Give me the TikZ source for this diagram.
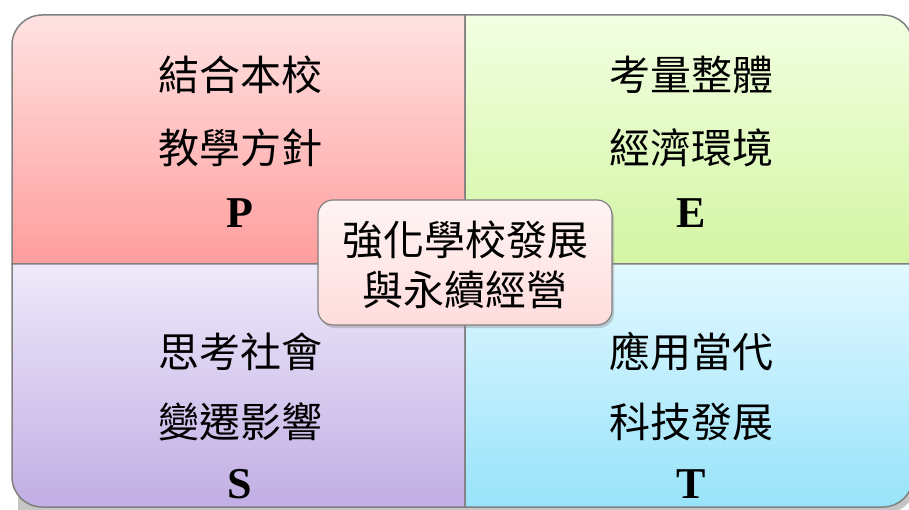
\documentclass[tikz,border=0pt]{standalone}
\usepackage{fontspec}
\setmainfont{Liberation Serif}
\newfontfamily\cjk{Noto Sans CJK TC}
\usetikzlibrary{shadows}
\definecolor{tlTop}{HTML}{FFE2E2}
\definecolor{tlBot}{HTML}{FF9D9D}
\definecolor{trTop}{HTML}{F2FFE2}
\definecolor{trBot}{HTML}{D3F5A3}
\definecolor{blTop}{HTML}{EEE9FA}
\definecolor{blBot}{HTML}{C1AEE4}
\definecolor{brTop}{HTML}{E2F8FF}
\definecolor{brBot}{HTML}{98E3FA}
\definecolor{edge}{HTML}{808080}
\definecolor{ctTop}{HTML}{FFF4F4}
\definecolor{ctBot}{HTML}{FFDCDC}
\tikzset{
  quad/.style={draw=edge, line width=1.5pt},
  cjktext/.style={inner sep=0pt, font=\cjk\fontsize{41}{48}\selectfont},
  lettertext/.style={inner sep=0pt, font=\bfseries\fontsize{44}{50}\selectfont},
  centerbox/.style={draw=edge, line width=1.2pt, rounded corners=15pt,
    top color=ctTop, bottom color=ctBot, minimum width=294pt, minimum height=125pt,
    drop shadow={shadow xshift=2pt, shadow yshift=-3pt, opacity=0.35}}
}
\begin{document}
\begin{tikzpicture}[x=1pt,y=1pt]
\useasboundingbox (0,0) rectangle (909,509);
\clip (0,0) rectangle (909,509);
% shadow behind the whole figure
\fill[black!45, opacity=0.5] (18,-4) -- (18,458) arc[start angle=180,end angle=90,radius=30] -- (886,488) arc[start angle=90,end angle=0,radius=30] -- (916,26) arc[start angle=0,end angle=-90,radius=30] -- cycle;
% quadrants
\shade[quad, top color=tlTop, bottom color=tlBot]
  (465,245) -- (12,245) -- (12,464) arc[start angle=180,end angle=90,radius=30] -- (465,494) -- cycle;
\shade[quad, top color=trTop, bottom color=trBot]
  (465,245) -- (465,494) -- (883,494) arc[start angle=90,end angle=0,radius=30] -- (913,245) -- cycle;
\shade[quad, top color=blTop, bottom color=blBot]
  (465,245) -- (12,245) -- (12,32) arc[start angle=180,end angle=270,radius=30] -- (465,2) -- cycle;
\shade[quad, top color=brTop, bottom color=brBot]
  (465,245) -- (913,245) -- (913,32) arc[start angle=0,end angle=-90,radius=30] -- (465,2) -- cycle;
% texts
\node[cjktext] (p1) at (240,434) {結合本校};
\node[cjktext] (p2) at (240,361) {教學方針};
\node[lettertext] (p3) at (240,296) {P};
\node[cjktext] (e1) at (691,434) {考量整體};
\node[cjktext] (e2) at (691,361) {經濟環境};
\node[lettertext] (e3) at (691,296) {E};
\node[cjktext] (s1) at (240,157) {思考社會};
\node[cjktext] (s2) at (240,87) {變遷影響};
\node[lettertext] (s3) at (240,25) {S};
\node[cjktext] (t1) at (691,157) {應用當代};
\node[cjktext] (t2) at (691,87) {科技發展};
\node[lettertext] (t3) at (691,25) {T};
% center box
\node[centerbox] (center) at (465,246.5) {};
\node[cjktext] (c1) at (465,269) {強化學校發展};
\node[cjktext] (c2) at (465,219) {與永續經營};
\end{tikzpicture}
\end{document}
